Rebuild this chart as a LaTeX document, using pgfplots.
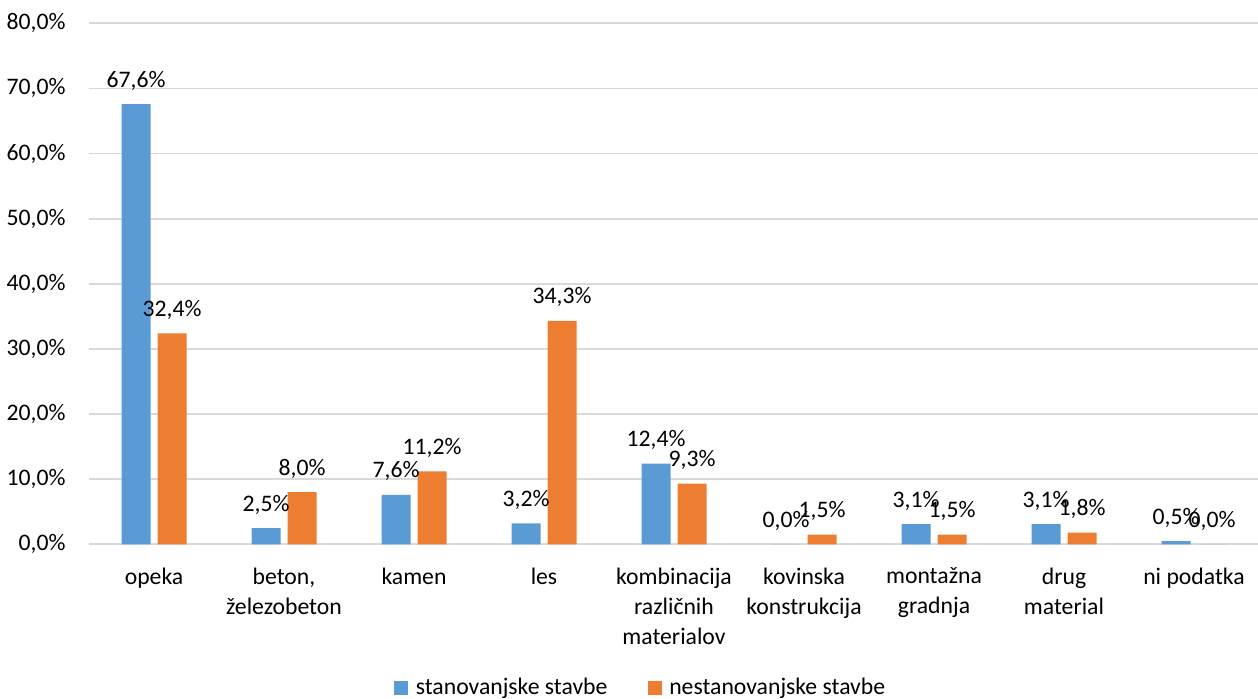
\documentclass[border=0pt]{standalone}
\usepackage{pgfplots}
\pgfplotsset{compat=1.18}
\usepackage{fontspec}
\setmainfont{Carlito}
\definecolor{cblue}{HTML}{5B9BD5}
\definecolor{corange}{HTML}{ED7D31}
\definecolor{cgrid}{HTML}{D9D9D9}
\newcommand{\fs}{\fontsize{11.85bp}{15bp}\selectfont}
\begin{document}
\begin{tikzpicture}
\useasboundingbox (0,0) rectangle (629bp,349.5bp);
\begin{axis}[
  at={(44.5bp,77.35bp)}, anchor=south west,
  scale only axis, width=585bp, height=260.5bp,
  /pgf/number format/assume math mode=true,
  ybar=3.5bp, bar width=14.5bp,
  xmin=-0.5, xmax=8.5, ymin=0, ymax=80,
  xtick=data,
  xticklabels={opeka, {beton,\\železobeton}, kamen, les, {kombinacija\\različnih\\materialov}, {kovinska\\konstrukcija}, {montažna\\gradnja}, {drug\\material}, ni podatka},
  ytick={0,10,...,80},
  yticklabel={\pgfmathprintnumber[fixed,fixed zerofill,precision=1,use comma]{\tick}\%},
  major tick length=0pt,
  axis line style={draw=none},
  ymajorgrids, grid style={cgrid, line width=0.9bp},
  xticklabel style={font=\fs, align=center, anchor=north, inner sep=0pt, yshift=-11.5bp},
  yticklabel style={font=\fs, anchor=east, inner sep=0pt, xshift=-11.5bp},
  nodes near coords={\pgfmathprintnumber[fixed,fixed zerofill,precision=1,use comma]{\pgfplotspointmeta}\%},
  nodes near coords style={font=\fs, anchor=base, inner sep=0pt, yshift=8.5bp, text=black},
  legend columns=2,
  legend style={at={(0.5,0)}, anchor=center, xshift=-16.5bp, yshift=-71.85bp, draw=none, font=\fs, inner sep=0pt,
    /tikz/every even column/.append style={column sep=19bp},
    /tikz/every odd column/.append style={column sep=2.5bp},
    nodes={inner sep=1.2bp}},
  legend image code/.code={\fill[#1] (0bp,-3.5bp) rectangle (7bp,3.5bp);},
]
\addplot[fill=cblue, draw=none] coordinates {(0,67.6) (1,2.5) (2,7.6) (3,3.2) (4,12.4) (5,0.0) (6,3.1) (7,3.1) (8,0.5)};
\addplot[fill=corange, draw=none] coordinates {(0,32.4) (1,8.0) (2,11.2) (3,34.3) (4,9.3) (5,1.5) (6,1.5) (7,1.8) (8,0.0)};
\legend{stanovanjske stavbe, nestanovanjske stavbe}
\end{axis}
\end{tikzpicture}
\end{document}
